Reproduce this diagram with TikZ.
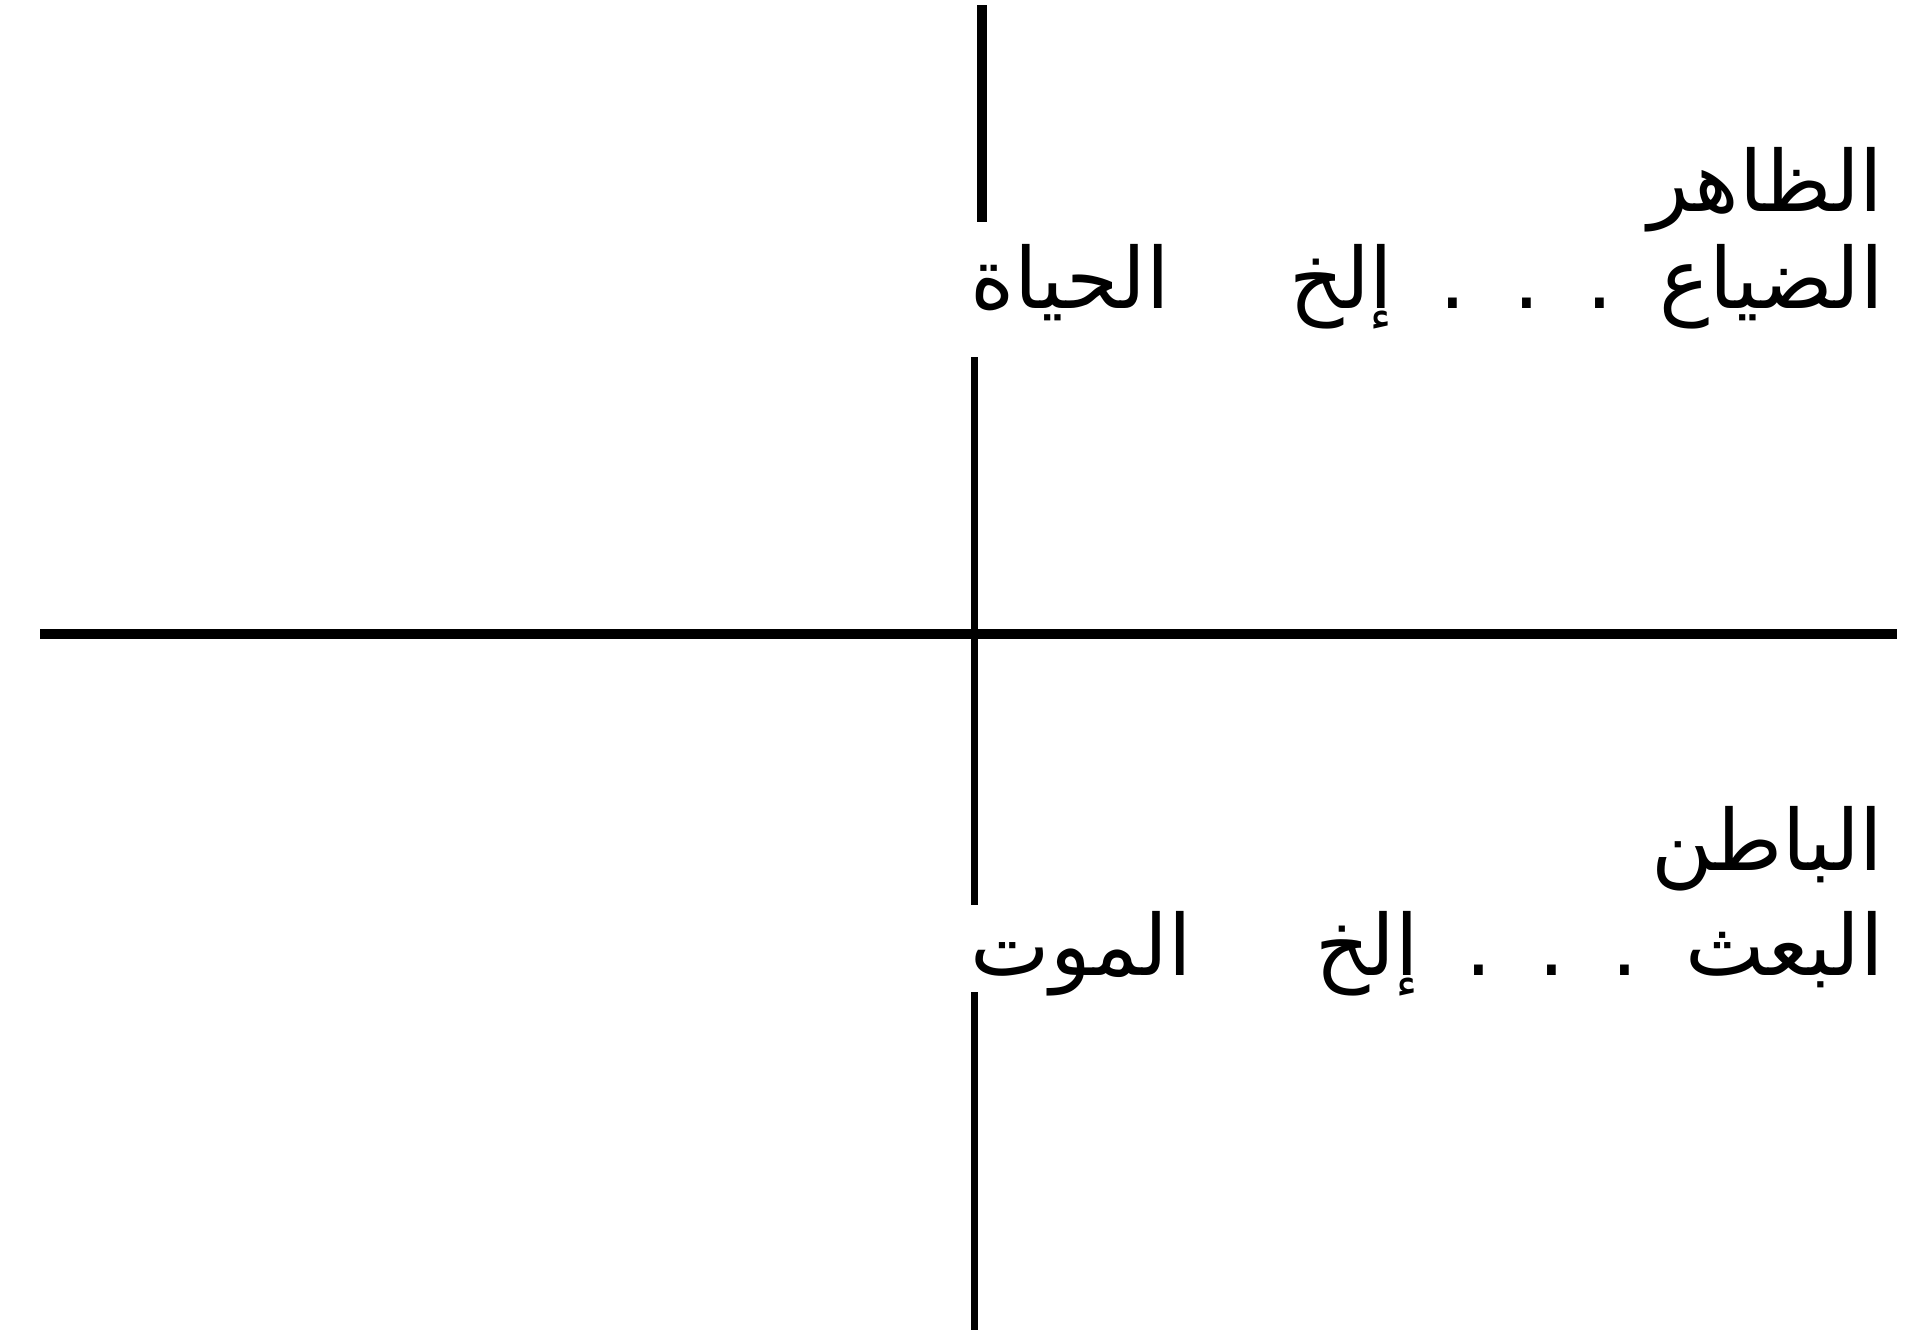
\documentclass[tikz,border=0pt]{standalone}
\usepackage{fontspec}
\newfontfamily\arabicfont[Script=Arabic]{DejaVu Sans}
\TeXXeTstate=1
\newcommand{\dotgap}{\hspace{0.55em}}
\begin{document}
\begin{tikzpicture}[x=0.01cm,y=-0.01cm,
  artext/.style={font=\arabicfont\fontsize{24}{28}\selectfont, inner sep=0pt},
  thinrule/.style={line width=2pt},
  topruleline/.style={line width=2.6pt},
  crossrule/.style={line width=2.8pt}]
\useasboundingbox (0,0) rectangle (1931,1339);
% texts
\node[artext, anchor=base east] (zahir) at (1884,211) {\beginR الظاهر\endR};
\node[artext, anchor=base east] (dayaa) at (1884,308) {\beginR الضياع\dotgap.\dotgap.\dotgap.\dotgap إلخ\endR};
\node[artext, anchor=base west] (hayat) at (970,308) {\beginR الحياة\endR};
\node[artext, anchor=base east] (batin) at (1884,870) {\beginR الباطن\endR};
\node[artext, anchor=base east] (baath) at (1884,975) {\beginR البعث\dotgap.\dotgap.\dotgap.\dotgap إلخ\endR};
\node[artext, anchor=base west] (mawt) at (970,975) {\beginR الموت\endR};
% line ends
\coordinate (vtop) at (982,5);
\coordinate (vtopend) at (982,222);
\coordinate (vmidstart) at (974,357);
\coordinate (cross) at (974,634);
\coordinate (vmidend) at (974,905);
\coordinate (vbotstart) at (974,992);
\coordinate (vbot) at (974,1330);
\coordinate (hleft) at (40,634);
\coordinate (hright) at (1897,634);
% rules
\draw[topruleline] (vtop) -- (vtopend);
\draw[thinrule] (vmidstart) -- (cross) -- (vmidend);
\draw[thinrule] (vbotstart) -- (vbot);
\draw[crossrule] (hleft) -- (cross) -- (hright);
\end{tikzpicture}
\end{document}
